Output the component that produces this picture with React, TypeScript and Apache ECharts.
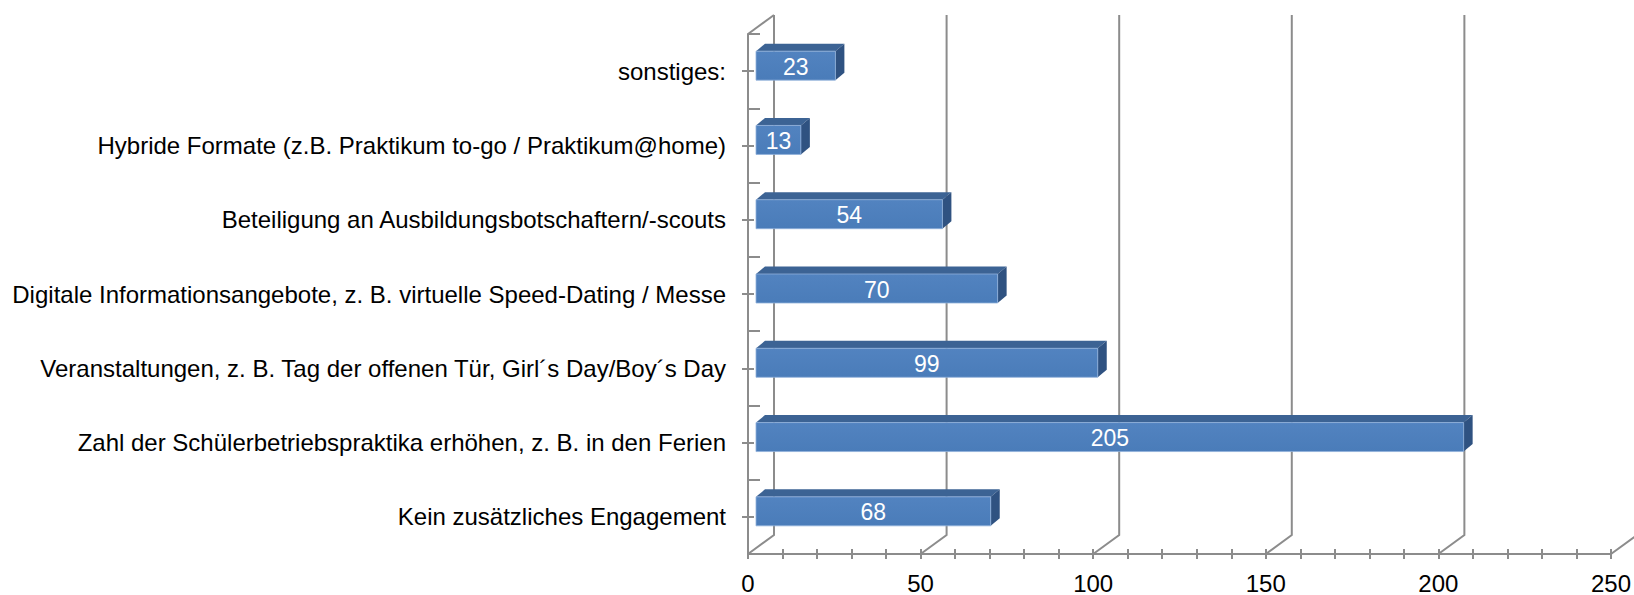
import React, { useEffect, useRef } from "react";
import * as echarts from "echarts";

const categories = [
  "sonstiges:",
  "Hybride Formate (z.B. Praktikum to-go / Praktikum@home)",
  "Beteiligung an Ausbildungsbotschaftern/-scouts",
  "Digitale Informationsangebote, z. B. virtuelle Speed-Dating / Messe",
  "Veranstaltungen, z. B. Tag der offenen Tür, Girl´s Day/Boy´s Day",
  "Zahl der Schülerbetriebspraktika erhöhen, z. B. in den Ferien",
  "Kein zusätzliches Engagement",
];
const values = [23, 13, 54, 70, 99, 205, 68];
const gridTicks = [0, 50, 100, 150, 200, 250];

const FONT = '"Liberation Sans", Arial, Helvetica, sans-serif';
const AXIS_COLOR = "#8c8c8c";
const WALL_DX = 26;
const WALL_DY = -19;

export default function App() {
  const ref = useRef<HTMLDivElement>(null);

  useEffect(() => {
    if (!ref.current) return;
    const chart = echarts.init(ref.current, undefined, { renderer: "svg" });

    const wallRender = (params: any, api: any) => {
      const v = api.value(0);
      const cs = params.coordSys;
      const p = api.coord([v, 0]);
      const top = cs.y;
      const bottom = cs.y + cs.height;
      const x = p[0];
      const children: any[] = [
        {
          type: "polyline",
          shape: {
            points: [
              [x, bottom],
              [x + WALL_DX, bottom + WALL_DY],
              [x + WALL_DX, top + WALL_DY],
            ],
          },
          style: { stroke: AXIS_COLOR, lineWidth: 2, fill: null },
        },
      ];
      if (v === 0) {
        children.push({
          type: "line",
          shape: { x1: x, y1: top, x2: x + WALL_DX, y2: top + WALL_DY },
          style: { stroke: AXIS_COLOR, lineWidth: 2 },
        });
      }
      return { type: "group", children };
    };

    const barRender = (params: any, api: any) => {
      const v = api.value(0);
      const c = api.value(1);
      const p0 = api.coord([0, c]);
      const p1 = api.coord([v, c]);
      const band = api.size([0, 1])[1];
      const h = band * 0.39;
      const x = p0[0] + 8;
      const w = p1[0] - p0[0];
      const y = p0[1] - 5.5 - h / 2;
      const dx = 9;
      const dy = -7.5;
      return {
        type: "group",
        children: [
          {
            type: "polygon",
            shape: {
              points: [
                [x, y],
                [x + w, y],
                [x + w + dx, y + dy],
                [x + dx, y + dy],
              ],
            },
            style: { fill: "#3c6394" },
          },
          {
            type: "polygon",
            shape: {
              points: [
                [x + w, y],
                [x + w + dx, y + dy],
                [x + w + dx, y + h + dy],
                [x + w, y + h],
              ],
            },
            style: { fill: "#2f5281" },
          },
          {
            type: "rect",
            shape: { x, y, width: w, height: h },
            style: {
              fill: new echarts.graphic.LinearGradient(0, 0, 0, 1, [
                { offset: 0, color: "#5283c0" },
                { offset: 1, color: "#4a7cb9" },
              ]),
              stroke: "#8fb0da",
              lineWidth: 0.8,
            },
          },
          {
            type: "text",
            style: {
              text: String(v),
              x: x + w / 2,
              y: y + h / 2 + 1,
              align: "center",
              verticalAlign: "middle",
              fill: "#ffffff",
              fontSize: 23,
              fontFamily: FONT,
            },
          },
        ],
      };
    };

    const option: any = {
      animation: false,
      backgroundColor: "#ffffff",
      grid: { left: 748, right: 10, top: 34, bottom: 39, containLabel: false },
      xAxis: [
        {
          type: "value",
          min: 0,
          max: 250,
          interval: 50,
          position: "bottom",
          axisLine: { show: true, lineStyle: { color: AXIS_COLOR, width: 2 } },
          axisTick: { show: false },
          splitLine: { show: false },
          axisLabel: {
            margin: 17,
            color: "#000",
            fontSize: 24,
            fontFamily: FONT,
          },
        },
        {
          type: "value",
          min: 0,
          max: 250,
          interval: 50,
          position: "bottom",
          offset: 5,
          axisLine: { show: false },
          axisTick: { show: true, inside: true, length: 10, lineStyle: { color: AXIS_COLOR, width: 2 } },
          minorTick: { show: true, splitNumber: 5, length: 10, lineStyle: { color: AXIS_COLOR, width: 2 } },
          splitLine: { show: false },
          axisLabel: { show: false },
        },
      ],
      yAxis: [
        {
          type: "category",
          data: categories,
          inverse: true,
          position: "left",
          axisLine: { show: true, lineStyle: { color: AXIS_COLOR, width: 2 } },
          axisTick: { show: false },
          splitLine: { show: false },
          axisLabel: {
            margin: 22,
            color: "#000",
            fontSize: 24,
            fontFamily: FONT,
          },
        },
        {
          type: "category",
          data: categories,
          inverse: true,
          position: "left",
          offset: 6,
          axisLine: { show: false },
          axisTick: { show: true, inside: true, length: 12, lineStyle: { color: AXIS_COLOR, width: 2 } },
          axisLabel: { show: false },
          splitLine: { show: false },
        },
        {
          type: "category",
          data: categories,
          inverse: true,
          position: "left",
          offset: 6,
          axisLine: { show: false },
          axisTick: {
            show: true,
            inside: true,
            alignWithLabel: true,
            length: 12,
            lineStyle: { color: AXIS_COLOR, width: 2 },
          },
          axisLabel: { show: false },
          splitLine: { show: false },
        },
      ],
      series: [
        {
          type: "custom",
          name: "wall",
          xAxisIndex: 0,
          yAxisIndex: 0,
          z: 1,
          silent: true,
          renderItem: wallRender,
          encode: { x: 0 },
          data: gridTicks.map((t) => [t, 0]),
        },
        {
          type: "custom",
          name: "Anzahl",
          xAxisIndex: 0,
          yAxisIndex: 0,
          z: 5,
          renderItem: barRender,
          encode: { x: 0, y: 1 },
          data: values.map((v, i) => [v, i]),
        },
      ],
    };

    chart.setOption(option);
    return () => chart.dispose();
  }, []);

  return (
    <div
      ref={ref}
      style={{ position: "fixed", left: 0, top: 0, width: 1634, height: 595 }}
    />
  );
}
